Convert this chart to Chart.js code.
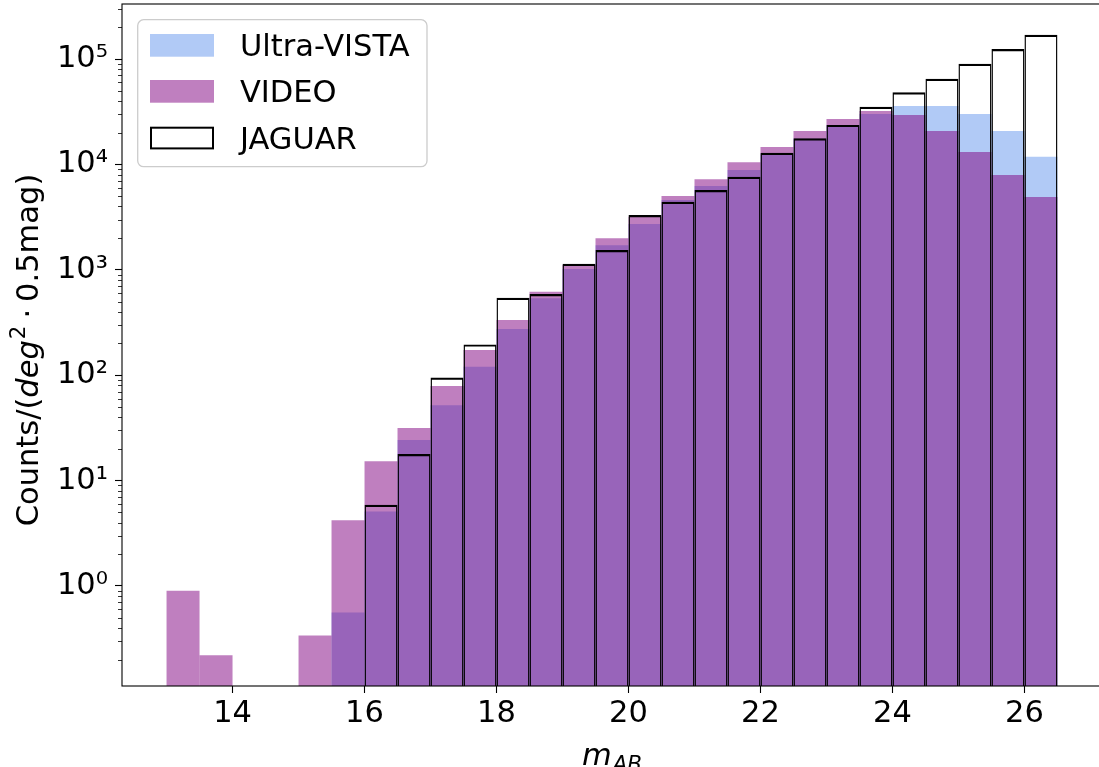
<!DOCTYPE html>
<html>
<head>
<meta charset="utf-8">
<script src="https://cdn.jsdelivr.net/npm/chart.js@4/dist/chart.umd.min.js"></script>
<style>
  html, body { margin: 0; padding: 0; background: #fff; overflow: hidden; }
  #wrap { width: 1099px; height: 767px; overflow: hidden; position: relative; }
  canvas { display: block; }
</style>
</head>
<body>
<div id="wrap"><canvas id="hist" width="1110" height="767"></canvas></div>
<script>
// Number counts per deg^2 per 0.5 mag bin, bins 13.0-26.5 (bin centres)
const magBinCenters = [13.25, 13.75, 14.25, 14.75, 15.25, 15.75, 16.25, 16.75, 17.25, 17.75,
                       18.25, 18.75, 19.25, 19.75, 20.25, 20.75, 21.25, 21.75, 22.25, 22.75,
                       23.25, 23.75, 24.25, 24.75, 25.25, 25.75, 26.25];
const ultraVistaCounts = [null, null, null, null, null, 0.56, 5.1, 24.3, 52, 120,
                          274, 536, 1020, 1710, 2720, 4590, 6240, 8850, 12600, 17500,
                          23500, 30100, 35800, 35800, 30100, 20700, 11800];
const videoCounts = [0.90, 0.22, null, null, 0.34, 4.2, 15.3, 31.6, 79, 173,
                     334, 620, 1110, 1990, 3190, 5010, 7220, 10500, 14600, 20700,
                     27000, 32100, 29400, 20700, 13100, 7940, 4910];
const jaguarCounts = [null, null, null, null, null, null, 5.9, 17.9, 95, 196,
                      543, 589, 1140, 1540, 3310, 4430, 5720, 7650, 12900, 17700,
                      23700, 35300, 48300, 65000, 90300, 124500, 170200];
const seriesNames = ['Ultra-VISTA', 'VIDEO', 'JAGUAR'];
const xTickValues = [14, 16, 18, 20, 22, 24, 26];
const yDecadeExponents = [0, 1, 2, 3, 4, 5];

// axis ranges
const X_MIN = 12.325, X_MAX = 27.175;
const Y_MIN = 0.1125, Y_MAX = 332700;

const FONT = 'DejaVu Sans';
const FS = 30.5;
const SUP = { '0': '\u2070', '1': '\u00B9', '2': '\u00B2', '3': '\u00B3', '4': '\u2074', '5': '\u2075' };

const VISTA_FILL = 'rgba(100,149,237,0.5)';
const VIDEO_FILL = 'rgba(128,0,128,0.5)';

const isDecade = v => Math.abs(Math.log10(v) - Math.round(Math.log10(v))) < 1e-9;
const toPoints = vals => magBinCenters.map((x, i) => ({ x: x, y: vals[i] }));

function yTickList() {
  const out = [];
  for (let e = -1; e <= 5; e++) {
    for (let m = 1; m <= 9; m++) {
      const v = m * Math.pow(10, e);
      if (v >= Y_MIN && v <= Y_MAX) out.push({ value: v, major: m === 1 && yDecadeExponents.includes(e) });
    }
  }
  return out;
}

// draws a run of text pieces (mixed italic / scripts) centred on (cx, baseY)
function drawRich(ctx, pieces, cx, baseY, rotated) {
  let total = 0;
  pieces.forEach(p => {
    ctx.font = (p.italic ? 'italic ' : '') + (p.size || FS) + 'px "' + FONT + '"';
    p.w = p.text ? ctx.measureText(p.text).width : 0;
    total += p.w + (p.gap || 0);
  });
  ctx.save();
  ctx.translate(cx, baseY);
  if (rotated) ctx.rotate(-Math.PI / 2);
  ctx.fillStyle = '#000';
  ctx.textBaseline = 'alphabetic';
  ctx.textAlign = 'left';
  let x = -total / 2;
  pieces.forEach(p => {
    x += (p.gap || 0);
    if (p.text) {
      ctx.font = (p.italic ? 'italic ' : '') + (p.size || FS) + 'px "' + FONT + '"';
      ctx.fillText(p.text, x, -(p.rise || 0));
    }
    x += p.w;
  });
  ctx.restore();
}

const decorPlugin = {
  id: 'decor',
  afterDatasetsDraw(chart) {
    const ctx = chart.ctx;
    const a = chart.chartArea;
    const ys = chart.scales.y;

    // minor ticks on the log axis
    ctx.save();
    ctx.strokeStyle = '#000';
    ctx.lineWidth = 0.8;
    yTickList().filter(t => !t.major).forEach(t => {
      const py = Math.round(ys.getPixelForValue(t.value)) + 0.5;
      ctx.beginPath();
      ctx.moveTo(a.left - 4, py);
      ctx.lineTo(a.left, py);
      ctx.stroke();
    });

    // axes frame
    ctx.lineWidth = 1.1;
    ctx.strokeRect(a.left, a.top, a.right - a.left, a.bottom - a.top);
    ctx.restore();

    // legend
    ctx.save();
    const lx = 137.7, ly = 19.7, lw = 289.3, lh = 147, r = 6;
    ctx.beginPath();
    ctx.moveTo(lx + r, ly);
    ctx.arcTo(lx + lw, ly, lx + lw, ly + lh, r);
    ctx.arcTo(lx + lw, ly + lh, lx, ly + lh, r);
    ctx.arcTo(lx, ly + lh, lx, ly, r);
    ctx.arcTo(lx, ly, lx + lw, ly, r);
    ctx.closePath();
    ctx.fillStyle = 'rgba(255,255,255,0.8)';
    ctx.fill();
    ctx.strokeStyle = '#cccccc';
    ctx.lineWidth = 1.3;
    ctx.stroke();

    const rows = [34, 80, 126.7];
    const fills = [VISTA_FILL, VIDEO_FILL, null];
    rows.forEach((ry, i) => {
      if (fills[i]) {
        ctx.fillStyle = fills[i];
        ctx.fillRect(150, ry, 64, 22.7);
      } else {
        ctx.strokeStyle = '#000';
        ctx.lineWidth = 2;
        ctx.strokeRect(151, ry + 1, 62, 20.7);
      }
      ctx.fillStyle = '#000';
      ctx.font = FS + 'px "' + FONT + '"';
      ctx.textBaseline = 'alphabetic';
      ctx.textAlign = 'left';
      ctx.fillText(seriesNames[i], 240, ry + 22.3);
    });
    ctx.restore();

    // axis titles
    drawRich(ctx, [
      { text: 'm', italic: true },
      { text: 'AB', italic: true, size: FS * 0.7, rise: -6.5, gap: 1 }
    ], (a.left + a.right) / 2, 764.6, false);

    drawRich(ctx, [
      { text: 'Counts/(' },
      { text: 'deg', italic: true },
      { text: '2', size: FS * 0.7, rise: 12.5, gap: 1 },
      { text: '\u00B7', gap: 7 },
      { text: '0.5mag)', gap: 7 }
    ], 37.5, 350, true);
  }
};

new Chart(document.getElementById('hist'), {
  type: 'bar',
  data: {
    datasets: [
      { label: seriesNames[0], data: toPoints(ultraVistaCounts), backgroundColor: VISTA_FILL, borderWidth: 0, order: 3 },
      { label: seriesNames[1], data: toPoints(videoCounts), backgroundColor: VIDEO_FILL, borderWidth: 0, order: 2 },
      { label: seriesNames[2], data: toPoints(jaguarCounts), backgroundColor: 'rgba(0,0,0,0)', borderColor: '#000',
        borderWidth: { top: 2.2, left: 1.4, right: 1.4, bottom: 0 }, borderSkipped: false, order: 1 }
    ]
  },
  options: {
    responsive: false,
    animation: false,
    devicePixelRatio: 1,
    datasets: { bar: { grouped: false, barPercentage: 1, categoryPercentage: 1, inflateAmount: 0 } },
    layout: { padding: { left: 0, top: 4, right: 8, bottom: 0 } },
    plugins: { legend: { display: false }, tooltip: { enabled: false } },
    scales: {
      x: {
        type: 'linear', min: X_MIN, max: X_MAX, offset: false,
        grid: { offset: false, drawOnChartArea: false, drawTicks: true, tickLength: 7, tickWidth: 1.1, tickColor: '#000' },
        border: { display: false },
        ticks: { font: { family: FONT, size: FS }, color: '#000', padding: 3, maxRotation: 0, autoSkip: false },
        afterBuildTicks: s => { s.ticks = xTickValues.map(v => ({ value: v })); },
        afterFit: s => { s.height = 81; s.paddingLeft = 0; s.paddingRight = 0; }
      },
      y: {
        type: 'logarithmic', min: Y_MIN, max: Y_MAX,
        grid: { drawOnChartArea: false, drawTicks: true, tickLength: 7, tickWidth: 1.1,
                tickColor: c => (c.tick && isDecade(c.tick.value)) ? '#000' : 'rgba(0,0,0,0)' },
        border: { display: false },
        ticks: {
          font: { family: FONT, size: FS }, color: '#000', padding: 7, autoSkip: false,
          callback: v => isDecade(v) ? '10' + SUP[String(Math.round(Math.log10(v)))] : ''
        },
        afterBuildTicks: s => { s.ticks = yTickList(); },
        afterFit: s => { s.width = 122; s.paddingTop = 0; s.paddingBottom = 0; }
      }
    }
  },
  plugins: [decorPlugin]
});
</script>
</body>
</html>
